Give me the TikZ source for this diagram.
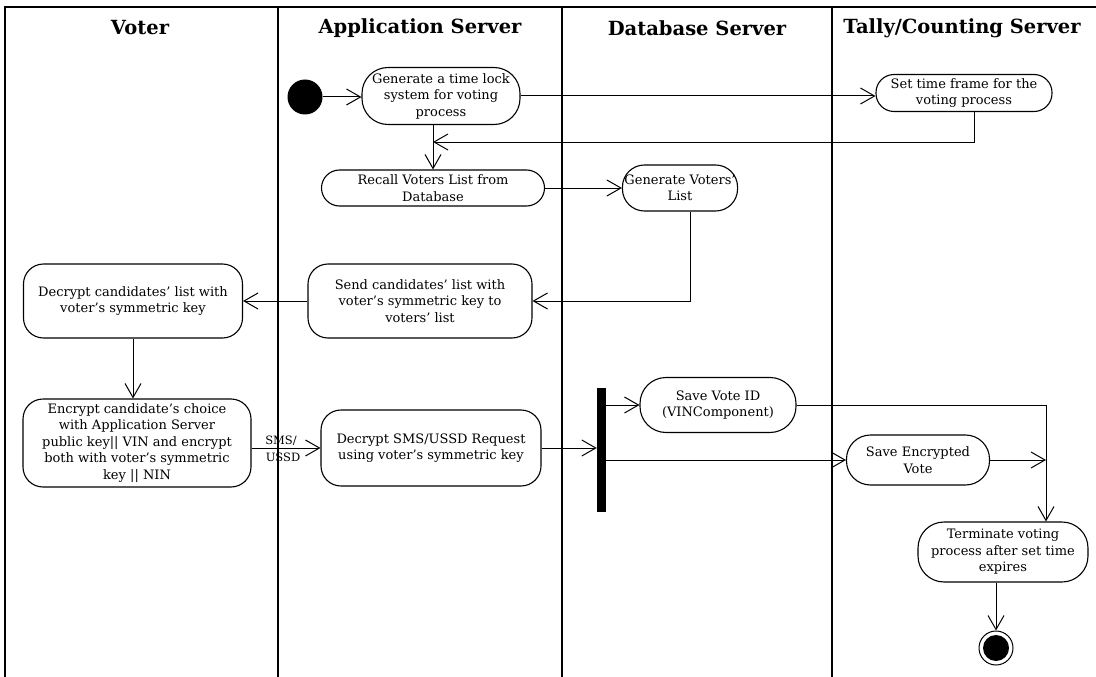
\documentclass[tikz,border=0pt]{standalone}
\usepackage{fontspec}
\setmainfont{DejaVu Serif}
\usetikzlibrary{arrows.meta}
\begin{document}
\begin{tikzpicture}[x=1pt,y=-1pt,
  lane/.style={line width=1.1pt},
  head/.style={font=\fontsize{19.5}{22}\selectfont\bfseries, anchor=center},
  act/.style={draw, line width=1.1pt, rounded corners=#1, align=center,
    inner sep=2pt, font=\fontsize{13}{16.5}\selectfont},
  act/.default=20pt,
  flow/.style={line width=1pt, -{Straight Barb[length=14pt,width=16pt,line width=1pt]}},
  lbl/.style={font=\fontsize{11.5}{13}\selectfont, inner sep=0pt}
]
\useasboundingbox (0,0) rectangle (1096,677);

% swimlane frame
\draw[lane] (5,677) -- (5,7) -- (1096,7);
\draw[lane] (278,7) -- (278,677);
\draw[lane] (562,7) -- (562,677);
\draw[lane] (832,7) -- (832,677);

% lane headings
\node[head] (h1) at (140,28) {Voter};
\node[head] (h2) at (420,28) {Application Server};
\node[head] (h3) at (697,28) {Database Server};
\node[head] (h4) at (962,28) {Tally/Counting Server};

% activities
\node[circle, fill=black, minimum size=35pt, inner sep=0pt] (init) at (305,97) {};
\node[act=26pt, minimum width=158pt, minimum height=57pt] (a1) at (441,96)
  {Generate a time lock\\system for voting\\process};
\node[act=18pt, minimum width=176pt, minimum height=37pt] (a2) at (964,93)
  {Set time frame for the\\voting process};
\node[act=18pt, minimum width=223pt, minimum height=36pt] (a3) at (433,188)
  {Recall Voters List from\\Database};
\node[act=22pt, minimum width=115pt, minimum height=46pt] (a4) at (680,188)
  {Generate Voters'\\List};
\node[act, minimum width=224pt, minimum height=74pt] (a5) at (420,301)
  {Send candidates' list with\\voter's symmetric key to\\voters' list};
\node[act, minimum width=219pt, minimum height=74pt] (a6) at (133,301)
  {Decrypt candidates' list with\\voter's symmetric key};
\node[act, minimum width=228pt, minimum height=88pt] (a7) at (137,443)
  {Encrypt candidate's choice\\with Application Server\\public key|| VIN and encrypt\\both with voter's symmetric\\key || NIN};
\node[act, minimum width=220pt, minimum height=76pt] (a8) at (431,448)
  {Decrypt SMS/USSD Request\\using voter's symmetric key};
\node[fill=black, minimum width=9pt, minimum height=124pt, inner sep=0pt] (fork) at (601.5,450) {};
\node[act=26pt, minimum width=156pt, minimum height=55pt] (a9) at (718,405)
  {Save Vote ID\\(VINComponent)};
\node[act=24pt, minimum width=143pt, minimum height=50pt] (a10) at (918,460)
  {Save Encrypted\\Vote};
\node[act=26pt, minimum width=170pt, minimum height=60pt] (a11) at (1003,552)
  {Terminate voting\\process after set time\\expires};
\node[circle, draw, line width=1pt, minimum size=34pt, inner sep=0pt] (fin) at (996,648) {};
\node[circle, fill=black, minimum size=26pt, inner sep=0pt] (finin) at (fin.center) {};

% junction points
\coordinate (back) at (a3.north |- 0,142);
\coordinate (join) at ([xshift=43pt]a11.north |- a10.east);

% connectors
\draw[flow] (init) -- (a1.west |- init);
\draw[flow] (a1.east) -- (a1.east -| a2.west);
\draw[flow] ([xshift=10pt]a2.south) |- (back);
\draw[flow] (a3.north |- a1.south) -- (a3.north);
\draw[flow] (a3.east) -- (a4.west);
\draw[flow] ([xshift=10pt]a4.south) |- (a5.east);
\draw[flow] (a5.west) -- (a6.east);
\draw[flow] (a6.south) -- (a6.south |- a7.north);
\draw[flow] (a8.west -| a7.east) -- (a8.west);
\draw[flow] (a8.east) -- (a8.east -| fork.west);
\draw[flow] (fork.east |- a9.west) -- (a9.west);
\draw[flow] (fork.east |- a10.west) -- (a10.west);
\draw[flow] (a9.east) -| (join |- a11.north);
\draw[flow] (a10.east) -- (join);
\draw[flow] (a11.south -| fin) -- (fin.north);

% channel label
\node[lbl, anchor=south] (sms) at (281,446) {SMS/};
\node[lbl, anchor=north] (ussd) at (283,453) {USSD};
\end{tikzpicture}
\end{document}
